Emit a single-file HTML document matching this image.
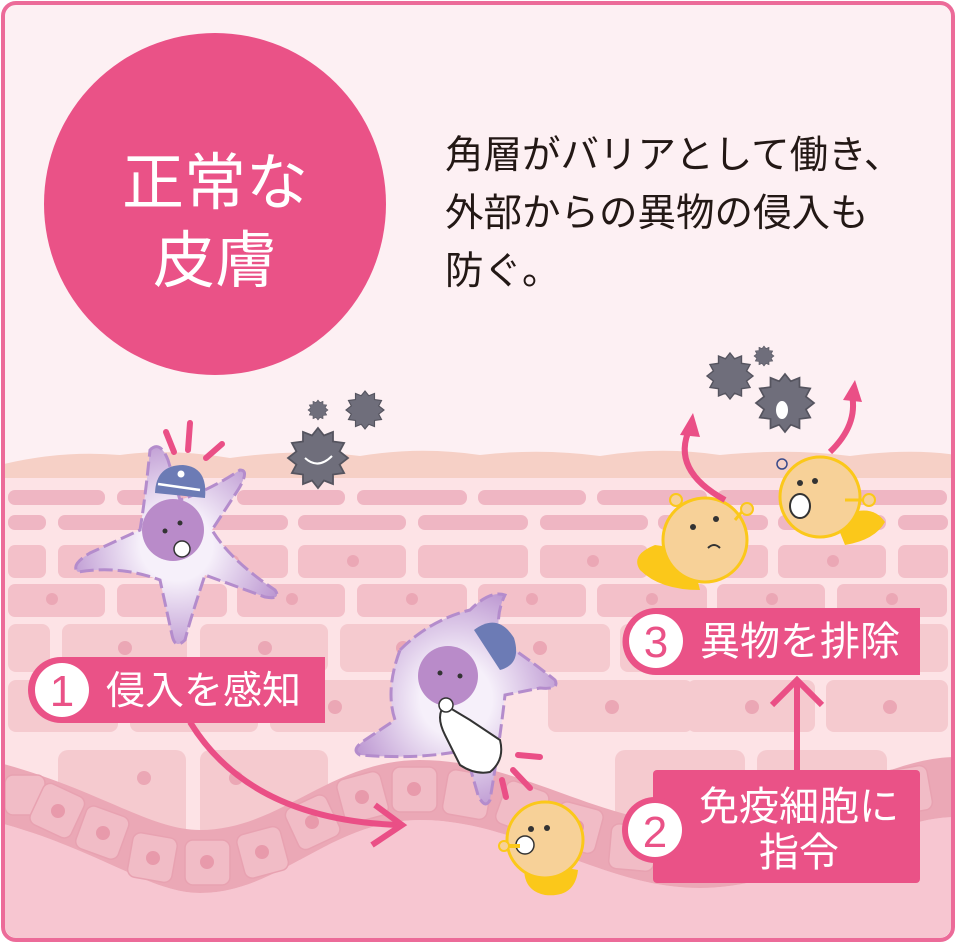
<!DOCTYPE html>
<html><head><meta charset="utf-8"><style>
html,body{margin:0;padding:0;background:#fff}
svg{display:block}
text{font-family:"Liberation Sans","Noto Sans CJK JP",sans-serif}
</style></head><body>
<svg width="956" height="943" viewBox="0 0 956 943" xmlns="http://www.w3.org/2000/svg">
<defs>
<clipPath id="cp"><rect x="5" y="5" width="946" height="933" rx="12"/></clipPath>
<radialGradient id="pg" cx="0.5" cy="0.5" r="0.6"><stop offset="0.3" stop-color="#f6f0fa"/><stop offset="1" stop-color="#b58ccc"/></radialGradient>
<g id="germ"><polygon points="0,-1 0.2,-0.75 0.5,-0.87 0.5,-0.55 0.87,-0.5 0.72,-0.22 1,0 0.72,0.22 0.87,0.5 0.5,0.55 0.5,0.87 0.2,0.75 0,1 -0.2,0.75 -0.5,0.87 -0.5,0.55 -0.87,0.5 -0.72,0.22 -1,0 -0.72,-0.22 -0.87,-0.5 -0.5,-0.55 -0.5,-0.87 -0.2,-0.75" fill="#6f6e7b" stroke="#55545f" stroke-width="0.06"/></g>
</defs>
<rect x="0" y="0" width="956" height="943" fill="#fff"/>
<g clip-path="url(#cp)">
<rect x="0" y="0" width="956" height="943" fill="#fdf0f3"/>
<path d="M0 465 Q60 450 120 455 Q170 448 230 458 Q300 448 360 456 Q420 446 480 455 Q540 448 600 456 Q660 446 720 455 Q790 448 850 456 Q910 448 956 455 L956 960 L0 960Z" fill="#f6d0c6"/>
<rect x="0" y="478" width="956" height="480" fill="#fde3e6"/>
<g fill="#efb6c3">
<rect x="8" y="490" width="97" height="15" rx="7"/><rect x="117" y="490" width="110" height="15" rx="7"/><rect x="237" y="490" width="108" height="15" rx="7"/><rect x="357" y="490" width="110" height="15" rx="7"/><rect x="478" y="490" width="108" height="15" rx="7"/><rect x="597" y="490" width="110" height="15" rx="7"/><rect x="717" y="490" width="108" height="15" rx="7"/><rect x="837" y="490" width="110" height="15" rx="7"/>
<rect x="8" y="515" width="38" height="15" rx="7"/><rect x="58" y="515" width="108" height="15" rx="7"/><rect x="178" y="515" width="110" height="15" rx="7"/><rect x="298" y="515" width="108" height="15" rx="7"/><rect x="418" y="515" width="110" height="15" rx="7"/><rect x="540" y="515" width="108" height="15" rx="7"/><rect x="658" y="515" width="110" height="15" rx="7"/><rect x="778" y="515" width="108" height="15" rx="7"/><rect x="898" y="515" width="50" height="15" rx="7"/>
</g>
<g fill="#f3c0c9">
<rect x="8" y="545" width="38" height="33" rx="7"/><rect x="58" y="545" width="108" height="33" rx="7"/><rect x="178" y="545" width="110" height="33" rx="7"/><rect x="298" y="545" width="108" height="33" rx="7"/><rect x="418" y="545" width="110" height="33" rx="7"/><rect x="540" y="545" width="108" height="33" rx="7"/><rect x="658" y="545" width="110" height="33" rx="7"/><rect x="778" y="545" width="108" height="33" rx="7"/><rect x="898" y="545" width="50" height="33" rx="7"/>
<rect x="8" y="584" width="97" height="33" rx="7"/><rect x="117" y="584" width="110" height="33" rx="7"/><rect x="237" y="584" width="108" height="33" rx="7"/><rect x="357" y="584" width="110" height="33" rx="7"/><rect x="478" y="584" width="108" height="33" rx="7"/><rect x="597" y="584" width="110" height="33" rx="7"/><rect x="717" y="584" width="108" height="33" rx="7"/><rect x="837" y="584" width="110" height="33" rx="7"/>
</g>
<g fill="#f5cacf">
<rect x="8" y="624" width="42" height="48" rx="8"/><rect x="62" y="624" width="125" height="48" rx="8"/><rect x="200" y="624" width="128" height="48" rx="8"/><rect x="340" y="624" width="128" height="48" rx="8"/><rect x="480" y="624" width="130" height="48" rx="8"/><rect x="620" y="624" width="128" height="48" rx="8"/><rect x="760" y="624" width="128" height="48" rx="8"/><rect x="900" y="624" width="48" height="48" rx="8"/>
<rect x="8" y="680" width="110" height="52" rx="8"/><rect x="130" y="680" width="128" height="52" rx="8"/><rect x="270" y="680" width="128" height="52" rx="8"/><rect x="548" y="680" width="145" height="52" rx="8"/><rect x="687" y="680" width="128" height="52" rx="8"/><rect x="826" y="680" width="122" height="52" rx="8"/>
<rect x="58" y="750" width="128" height="110" rx="10"/><rect x="200" y="750" width="128" height="110" rx="10"/><rect x="615" y="750" width="130" height="110" rx="10"/><rect x="757" y="750" width="130" height="110" rx="10"/>
</g>
<g fill="#eba7b5">
<circle cx="52" cy="599" r="6"/><circle cx="292" cy="599" r="6"/><circle cx="412" cy="599" r="6"/><circle cx="532" cy="599" r="6"/><circle cx="652" cy="599" r="6"/><circle cx="772" cy="599" r="6"/><circle cx="892" cy="599" r="6"/>
<circle cx="233" cy="561" r="6"/><circle cx="353" cy="561" r="6"/><circle cx="593" cy="561" r="6"/><circle cx="833" cy="561" r="6"/>
<circle cx="125" cy="648" r="7"/><circle cx="265" cy="648" r="7"/><circle cx="403" cy="648" r="7"/><circle cx="540" cy="648" r="7"/><circle cx="680" cy="648" r="7"/><circle cx="820" cy="648" r="7"/>
<circle cx="335" cy="707" r="7"/><circle cx="612" cy="707" r="7"/><circle cx="752" cy="707" r="7"/><circle cx="890" cy="707" r="7"/>
<circle cx="144" cy="778" r="7"/><circle cx="236" cy="778" r="7"/><circle cx="752" cy="778" r="7"/>
</g>
<path d="M0 823 C100 850 150 893 200 893 C280 893 330 820 420 820 C520 820 600 888 700 888 C800 888 880 817 956 817 L956 960 L0 960Z" fill="#f7c6d1"/>
<path d="M0 763 C100 790 150 830 200 830 C280 830 330 760 420 760 C520 760 600 825 700 825 C800 825 880 757 956 757 L956 817 C880 817 800 888 700 888 C600 888 520 820 420 820 C330 820 280 893 200 893 C150 893 100 850 0 823Z" fill="#eba8b6"/>
<g fill="#f1bcc6" stroke="#e8a2b1" stroke-width="1.5">
<rect x="5" y="775" width="40" height="40" rx="8"/><rect x="35" y="788" width="45" height="45" rx="8" transform="rotate(25 57 810)"/><rect x="80" y="810" width="45" height="45" rx="8" transform="rotate(20 102 832)"/><rect x="130" y="835" width="45" height="45" rx="8" transform="rotate(10 152 857)"/><rect x="185" y="840" width="45" height="45" rx="8"/><rect x="240" y="830" width="45" height="45" rx="8" transform="rotate(-15 262 852)"/><rect x="290" y="800" width="45" height="45" rx="8" transform="rotate(-25 312 822)"/><rect x="340" y="775" width="45" height="45" rx="8" transform="rotate(-15 362 797)"/><rect x="392" y="767" width="45" height="45" rx="8"/><rect x="445" y="772" width="45" height="45" rx="8" transform="rotate(10 467 794)"/><rect x="500" y="785" width="45" height="45" rx="8" transform="rotate(20 522 807)"/><rect x="555" y="805" width="45" height="45" rx="8" transform="rotate(15 577 827)"/><rect x="610" y="825" width="45" height="45" rx="8" transform="rotate(5 632 847)"/><rect x="665" y="835" width="45" height="45" rx="8"/><rect x="720" y="828" width="45" height="45" rx="8" transform="rotate(-10 742 850)"/><rect x="775" y="808" width="45" height="45" rx="8" transform="rotate(-20 797 830)"/><rect x="830" y="785" width="45" height="45" rx="8" transform="rotate(-20 852 807)"/><rect x="885" y="768" width="45" height="45" rx="8" transform="rotate(-10 907 790)"/>
</g>
<g fill="#e89aab">
<circle cx="58" cy="811" r="7"/><circle cx="103" cy="833" r="7"/><circle cx="153" cy="858" r="7"/><circle cx="207" cy="862" r="7"/><circle cx="262" cy="852" r="7"/><circle cx="312" cy="822" r="7"/><circle cx="362" cy="797" r="7"/><circle cx="414" cy="789" r="7"/><circle cx="577" cy="827" r="7"/><circle cx="742" cy="850" r="7"/><circle cx="852" cy="807" r="7"/><circle cx="907" cy="790" r="7"/>
</g>
</g>
<rect x="3" y="3" width="950" height="937" rx="13" fill="none" stroke="#ec6b99" stroke-width="4"/>

<circle cx="215" cy="204" r="171" fill="#ea5287"/>
<text x="215" y="204" font-size="62" fill="#fff" text-anchor="middle">正常な</text>
<text x="215" y="282" font-size="62" fill="#fff" text-anchor="middle">皮膚</text>
<g font-size="38.5" fill="#231815">
<text x="445" y="168">角層がバリアとして働き、</text>
<text x="445" y="226">外部からの異物の侵入も</text>
<text x="445" y="284">防ぐ。</text>
</g>

<use href="#germ" transform="translate(318,458) scale(30)"/>
<use href="#germ" transform="translate(365,410) scale(19)"/>
<use href="#germ" transform="translate(318,410) scale(10)"/>
<use href="#germ" transform="translate(730,376) scale(23)"/>
<use href="#germ" transform="translate(785,403) scale(29)"/>
<use href="#germ" transform="translate(764,356) scale(10)"/>
<path d="M305 458 Q318 470 332 456" stroke="#fff" stroke-width="2" fill="none"/>
<ellipse cx="782" cy="410" rx="6" ry="9" fill="#fff"/>

<g stroke="#ea4f86" stroke-width="6" stroke-linecap="round">
<line x1="166" y1="432" x2="174" y2="452"/><line x1="190" y1="423" x2="188" y2="450"/><line x1="222" y1="444" x2="206" y2="458"/>
<line x1="518" y1="755" x2="540" y2="757"/><line x1="513" y1="770" x2="530" y2="788"/><line x1="502" y1="780" x2="506" y2="797"/>
</g>

<path d="M150 450 Q160 440 168 460 L180 500 Q210 490 240 470 Q250 470 238 490 L212 530 Q230 560 275 590 Q282 600 265 597 L205 575 Q190 620 185 640 Q175 650 172 635 L160 580 Q120 565 78 572 Q70 565 90 553 L140 530 Q145 500 150 450Z" fill="url(#pg)" stroke="#b48ccc" stroke-width="3" stroke-dasharray="14 5"/>
<circle cx="173" cy="530" r="31" fill="#b98bc9"/>
<circle cx="182" cy="549" r="8" fill="#fff" stroke="#333" stroke-width="1.5"/>
<circle cx="165" cy="531" r="2.5" fill="#333"/><circle cx="180" cy="523" r="2.5" fill="#333"/>
<path d="M155 493 Q156 465 183 465 Q208 467 205 498 Z" fill="#6c7bb5"/>
<line x1="158" y1="484" x2="200" y2="490" stroke="#fff" stroke-width="2.5"/><circle cx="181" cy="474" r="3.5" fill="#fff"/>

<path d="M400 650 Q430 620 470 610 Q490 590 505 595 Q495 615 500 640 Q530 660 555 680 Q560 690 540 688 L505 695 Q500 740 490 800 Q485 810 478 795 L465 750 Q420 760 360 755 Q350 750 365 740 L395 720 Q385 690 400 650Z" fill="url(#pg)" stroke="#b48ccc" stroke-width="3" stroke-dasharray="14 5"/>
<circle cx="448" cy="676" r="30" fill="#b98bc9"/>
<circle cx="440" cy="673" r="2.5" fill="#333"/><circle cx="460" cy="676" r="2.5" fill="#333"/>
<path d="M474 630 Q498 612 514 638 Q522 664 500 670 Z" fill="#6c7bb5"/>
<path d="M445 705 L470 720 L500 740 Q505 760 490 772 Q475 775 460 765 L445 735 Q435 715 445 705Z" fill="#fff" stroke="#333" stroke-width="2"/>
<circle cx="446" cy="705" r="7" fill="#fff" stroke="#333" stroke-width="1.5"/>

<path d="M655 545 Q630 555 640 570 Q660 590 700 590 L690 550Z" fill="#fbc81a"/>
<circle cx="705" cy="540" r="42" fill="#f7d198" stroke="#fbc81a" stroke-width="3"/>
<circle cx="693" cy="527" r="3" fill="#333"/><circle cx="716" cy="519" r="3" fill="#333"/>
<path d="M708 548 Q714 542 720 548" stroke="#333" stroke-width="2" fill="none"/>
<line x1="680" y1="505" x2="676" y2="498" stroke="#fbc81a" stroke-width="3"/><circle cx="676" cy="500" r="6" fill="#f7d198" stroke="#fbc81a" stroke-width="2"/>
<line x1="735" y1="520" x2="745" y2="508" stroke="#fbc81a" stroke-width="3"/><circle cx="747" cy="509" r="6" fill="#f7d198" stroke="#fbc81a" stroke-width="2"/>
<path d="M835 520 Q870 500 885 522 Q875 540 845 545Z" fill="#fbc81a"/>
<circle cx="820" cy="497" r="40" fill="#f7d198" stroke="#fbc81a" stroke-width="3"/>
<ellipse cx="800" cy="506" rx="10" ry="12" fill="#fff" stroke="#333" stroke-width="2"/>
<circle cx="800" cy="483" r="3" fill="#333"/><circle cx="815" cy="481" r="3" fill="#333"/>
<circle cx="782" cy="464" r="5" fill="none" stroke="#3a4a8a" stroke-width="1.5"/>
<line x1="845" y1="500" x2="868" y2="500" stroke="#fbc81a" stroke-width="3"/><circle cx="869" cy="500" r="6" fill="#f7d198" stroke="#fbc81a" stroke-width="2"/>
<path d="M525 860 Q520 890 545 895 Q575 898 578 870Z" fill="#fbc81a"/>
<circle cx="545" cy="840" r="38" fill="#f7d198" stroke="#fbc81a" stroke-width="3"/>
<circle cx="525" cy="845" r="9" fill="#fff" stroke="#333" stroke-width="1.5"/>
<circle cx="531" cy="829" r="3" fill="#333"/><circle cx="547" cy="828" r="3" fill="#333"/>
<line x1="505" y1="846" x2="520" y2="846" stroke="#fbc81a" stroke-width="4"/><circle cx="504" cy="846" r="5" fill="#f7d198" stroke="#fbc81a" stroke-width="2"/>

<g stroke="#ea4f86" stroke-width="6" fill="none" stroke-linecap="butt">
<path d="M190 722 Q250 820 400 825"/>
<path d="M375 805 L402 825 L372 845"/>
<line x1="797" y1="772" x2="797" y2="683"/>
<path d="M772 705 L797 680 L822 705"/>
<path d="M725 500 Q670 470 690 428"/>
<path d="M830 452 Q858 425 852 395"/>
</g>
<polygon points="680,435 693,413 700,437" fill="#ea4f86"/>
<polygon points="843,400 855,380 862,402" fill="#ea4f86"/>

<path d="M61 657 L325 657 L325 723 L61 723 A33 33 0 0 1 61 657Z" fill="#ea5287"/>
<circle cx="62" cy="690" r="27" fill="#fff"/>
<text x="62" y="706" font-size="44" fill="#ea5287" text-anchor="middle" font-family="Liberation Serif, serif">1</text>
<text x="106" y="704" font-size="39" fill="#fff">侵入を感知</text>

<path d="M656 608 L920 608 L920 675 L656 675 A33.5 33.5 0 0 1 656 608Z" fill="#ea5287"/>
<circle cx="656" cy="641" r="27" fill="#fff"/>
<text x="656" y="657" font-size="44" fill="#ea5287" text-anchor="middle" font-family="Liberation Serif, serif">3</text>
<text x="700" y="655" font-size="40" fill="#fff">異物を排除</text>

<rect x="653" y="770" width="267" height="113" rx="4" fill="#ea5287"/>
<circle cx="655" cy="830" r="33" fill="#ea5287"/>
<circle cx="655" cy="830" r="27" fill="#fff"/>
<text x="655" y="847" font-size="44" fill="#ea5287" text-anchor="middle" font-family="Liberation Serif, serif">2</text>
<text x="799" y="820" font-size="40" fill="#fff" text-anchor="middle">免疫細胞に</text>
<text x="799" y="866" font-size="40" fill="#fff" text-anchor="middle">指令</text>
</svg>
</body></html>
